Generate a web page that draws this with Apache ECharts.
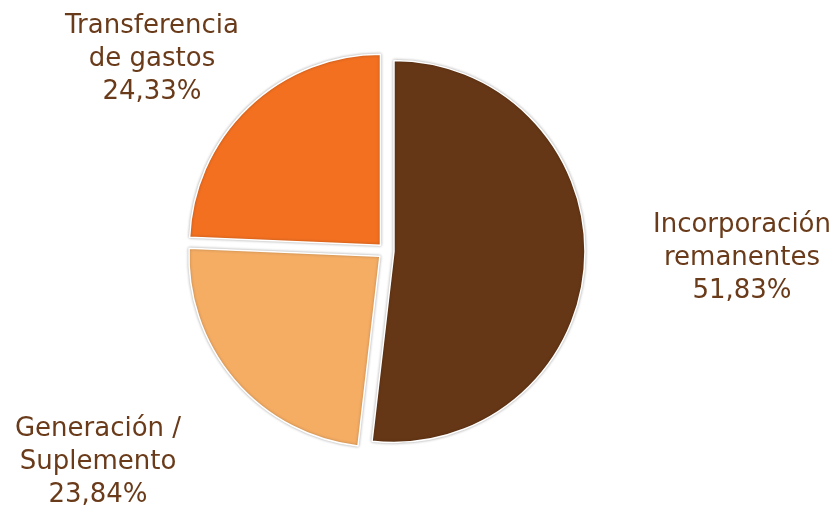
<!DOCTYPE html>
<html>
<head>
<meta charset="utf-8">
<script src="https://cdn.jsdelivr.net/npm/echarts@6/dist/echarts.min.js"></script>
<style>
  html, body { margin: 0; padding: 0; background: #ffffff; }
  #chart { width: 838px; height: 507px; }
</style>
</head>
<body>
<div id="chart"></div>
<script>
// Shares of the budget modification by type (percent)
const categories = ['Incorporación\nremanentes', 'Generación /\nSuplemento', 'Transferencia\nde gastos'];
const shares = [51.83, 23.84, 24.33];
const sliceColors = ['#663716', '#f5ad64', '#f37021'];

// Label block centres for each slice
const labelAnchors = [[742, 258], [98, 462], [152, 59]];

const fmtShare = v => v.toFixed(2).replace('.', ',') + '%';

const chart = echarts.init(document.getElementById('chart'), null, { renderer: 'canvas' });

chart.setOption({
  animation: false,
  backgroundColor: '#ffffff',
  graphic: categories.map((name, i) => ({
    type: 'text',
    x: labelAnchors[i][0],
    y: labelAnchors[i][1],
    silent: true,
    style: {
      text: name + '\n' + fmtShare(shares[i]),
      fill: '#6a3b1a',
      font: '26px "DejaVu Sans"',
      lineHeight: 33,
      align: 'center',
      verticalAlign: 'middle'
    }
  })),
  series: [{
    type: 'pie',
    center: [386, 251],
    radius: [0, 191],
    startAngle: 90,
    clockwise: true,
    selectedMode: 'multiple',
    selectedOffset: 8,
    data: categories.map((name, i) => ({
      name: name,
      value: shares[i],
      selected: true,
      itemStyle: { color: sliceColors[i] }
    })),
    itemStyle: {
      borderColor: '#ffffff',
      borderWidth: 1.5,
      shadowBlur: 3,
      shadowColor: 'rgba(0,0,0,0.3)'
    },
    emphasis: { disabled: true },
    label: { show: false },
    labelLine: { show: false }
  }]
});
</script>
</body>
</html>
